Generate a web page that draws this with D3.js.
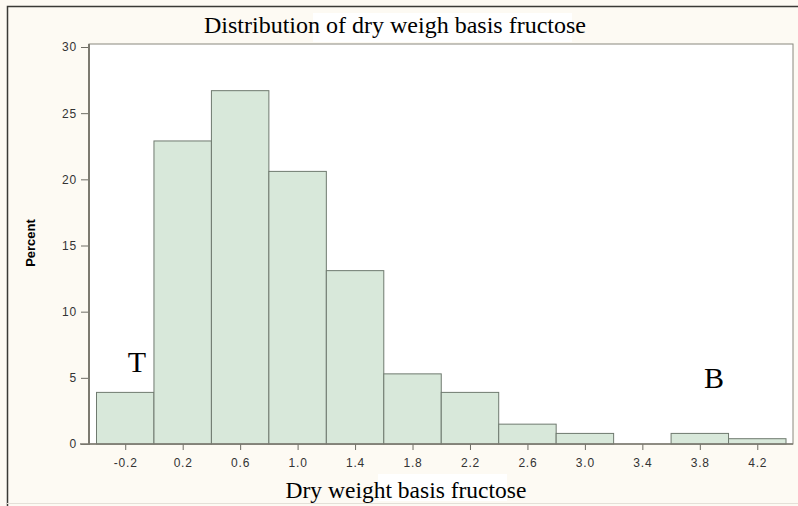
<!DOCTYPE html>
<html>
<head>
<meta charset="utf-8">
<script src="https://cdn.jsdelivr.net/npm/d3@7"></script>
<style>
  body { margin: 0; background: #fdfaf3; }
  svg { display: block; }
</style>
</head>
<body>
<svg></svg>
<script>
// bin midpoints and percent per bin
var bins = [-0.2, 0.2, 0.6, 1.0, 1.4, 1.8, 2.2, 2.6, 3.0, 3.4, 3.8, 4.2];
var percent = [3.9, 22.9, 26.7, 20.6, 13.1, 5.3, 3.9, 1.5, 0.8, 0, 0.8, 0.4];
var yTicks = [0, 5, 10, 15, 20, 25, 30];
var binWidth = 0.4;

var W = 798, H = 506;
var plot = {left: 89, right: 793, top: 44, bottom: 444};

var svg = d3.select("svg")
    .attr("width", W)
    .attr("height", H);

svg.append("rect")
    .attr("width", W).attr("height", H)
    .attr("fill", "#fdfaf3");

// outer frame lines
svg.append("path")
    .attr("d", "M7.5,506 V6.5 H798")
    .attr("fill", "none")
    .attr("stroke", "#3a3a36")
    .attr("stroke-width", 1.5);
svg.append("line")
    .attr("x1", 7).attr("x2", 798).attr("y1", 503.5).attr("y2", 503.5)
    .attr("stroke", "#e4e0d8");

var x = d3.scaleLinear()
    .domain([-0.4, 4.4])
    .range([96.5, 786]);

var y = d3.scaleLinear()
    .domain([0, 30])
    .range([plot.bottom, 47]);

// plot area
svg.append("rect")
    .attr("x", plot.left).attr("y", plot.top)
    .attr("width", plot.right - plot.left)
    .attr("height", plot.bottom - plot.top)
    .attr("fill", "#ffffff")
    .attr("stroke", "#8a887e")
    .attr("stroke-width", 1);

svg.selectAll(".bar")
    .data(bins)
    .enter()
    .append("rect")
      .attr("class", "bar")
      .attr("x", function(d) { return x(d - binWidth / 2); })
      .attr("y", function(d, i) { return y(percent[i]); })
      .attr("width", function(d) { return x(d + binWidth / 2) - x(d - binWidth / 2); })
      .attr("height", function(d, i) { return plot.bottom - y(percent[i]); })
      .attr("fill", "#d8e8da")
      .attr("stroke", "#6f7a6f")
      .attr("stroke-width", 1)
      .style("display", function(d, i) { return percent[i] > 0 ? null : "none"; });

// axes
var yAxis = svg.append("g")
    .attr("transform", "translate(" + plot.left + ",0)")
    .call(d3.axisLeft(y).tickValues(yTicks).tickSize(8).tickPadding(4));

var xAxis = svg.append("g")
    .attr("transform", "translate(0," + plot.bottom + ")")
    .call(d3.axisBottom(x).tickValues(bins).tickSize(6).tickPadding(8)
        .tickFormat(d3.format(".1f")));

[yAxis, xAxis].forEach(function(g) {
  g.select(".domain").remove();
  g.selectAll(".tick line").attr("stroke", "#6e6c64");
  g.selectAll(".tick text")
      .attr("fill", "#333")
      .style("font-family", "Liberation Sans, Arial, sans-serif")
      .style("font-size", "12px")
      .style("letter-spacing", "0.8px");
});
xAxis.selectAll(".tick text").text(function(d) { return d3.format(".1f")(d).replace("−", "-"); });

// axis lines
svg.append("line")
    .attr("x1", plot.left).attr("x2", plot.left)
    .attr("y1", plot.top).attr("y2", plot.bottom + 1)
    .attr("stroke", "#7c7a70").attr("stroke-width", 2);
svg.append("line")
    .attr("x1", plot.left - 9).attr("x2", plot.right)
    .attr("y1", plot.bottom).attr("y2", plot.bottom)
    .attr("stroke", "#7c7a70").attr("stroke-width", 1.5);

// title
svg.append("rect")
    .attr("x", 313).attr("y", 13).attr("width", 259).attr("height", 29)
    .attr("fill", "#ffffff");
svg.append("text")
    .attr("x", 395).attr("y", 33)
    .attr("text-anchor", "middle")
    .style("font-family", "Liberation Serif, Times New Roman, serif")
    .style("font-size", "24px")
    .attr("fill", "#000")
    .text("Distribution of dry weigh basis fructose");

// x label
svg.append("rect")
    .attr("x", 378).attr("y", 474).attr("width", 129).attr("height", 27)
    .attr("fill", "#ffffff");
svg.append("text")
    .attr("x", 406).attr("y", 498)
    .attr("text-anchor", "middle")
    .style("font-family", "Liberation Serif, Times New Roman, serif")
    .style("font-size", "23.5px")
    .attr("fill", "#000")
    .text("Dry weight basis fructose");

// y label
svg.append("text")
    .attr("transform", "translate(35,243) rotate(-90)")
    .attr("text-anchor", "middle")
    .style("font-family", "Liberation Sans, Arial, sans-serif")
    .style("font-size", "13px")
    .style("font-weight", "bold")
    .attr("fill", "#000")
    .text("Percent");

// annotations
svg.append("text")
    .attr("x", 137).attr("y", 372)
    .attr("text-anchor", "middle")
    .style("font-family", "Liberation Serif, Times New Roman, serif")
    .style("font-size", "30px")
    .text("T");
svg.append("text")
    .attr("x", 714).attr("y", 388)
    .attr("text-anchor", "middle")
    .style("font-family", "Liberation Serif, Times New Roman, serif")
    .style("font-size", "30px")
    .text("B");
</script>
</body>
</html>
